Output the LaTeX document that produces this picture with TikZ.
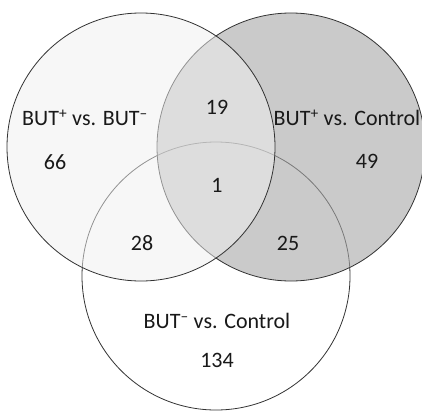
\documentclass[tikz,border=0pt]{standalone}
\usepackage{fontspec}
\setmainfont{Carlito}
\usepackage{tikz}
\definecolor{vennleft}{gray}{0.945}
\definecolor{vennright}{gray}{0.66}
\definecolor{vennline}{gray}{0.2}
\newcommand{\butplus}{BUT\textsuperscript{+}}
\newcommand{\butminus}{BUT\textsuperscript{--}}

\begin{document}
\begin{tikzpicture}[x=1pt, y=-1pt,
  setline/.style={draw=vennline, line width=0.8pt},
  lbl/.style={font=\fontsize{22}{26}\selectfont, text=black!90, inner sep=0pt}]

\useasboundingbox (0,0) rectangle (422,412);
\fill[white] (0,0) rectangle (422,412);

\coordinate (cA) at (141,147);
\coordinate (cB) at (291,147);
\coordinate (cC) at (216,276);

% sets
\draw[setline] (cC) circle (134pt);
\draw[setline, fill=vennright, fill opacity=0.6] (cB) circle (134pt);
\draw[setline, fill=vennleft, fill opacity=0.5] (cA) circle (134pt);

% set names
\node[lbl] (nameA) at (85,118) {\butplus{} vs. \butminus};
\node[lbl] (nameB) at (347,118) {\butplus{} vs. Control};
\node[lbl] (nameC) at (217,321) {\butminus{} vs. Control};

% counts
\node[lbl] (onlyA)  at (55,162)  {66};
\node[lbl] (onlyB)  at (367,161) {49};
\node[lbl] (onlyC)  at (217,360) {134};
\node[lbl] (AB)     at (217,107) {19};
\node[lbl] (AC)     at (142,243) {28};
\node[lbl] (BC)     at (288,243) {25};
\node[lbl] (ABC)    at (217,185) {1};
\end{tikzpicture}
\end{document}
